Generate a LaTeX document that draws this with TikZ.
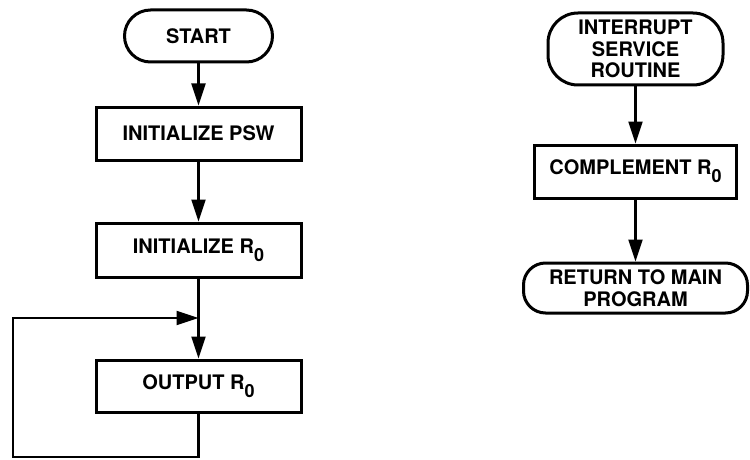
\documentclass[tikz,border=0pt]{standalone}
\usepackage{fontspec}
\setmainfont{TeX Gyre Heros}
\usetikzlibrary{arrows.meta}

\newcommand{\subzero}{\raisebox{-8pt}{\fontsize{18}{18}\selectfont 0}}

\tikzset{
  box/.style={draw, line width=3pt, rectangle, inner sep=0pt,
    font=\fontsize{20}{21.5}\selectfont\bfseries, align=center},
  term/.style={box, rounded corners=#1},
  flow/.style={line width=2.2pt, -{Triangle[length=22pt,width=14pt]}},
}

\begin{document}
\begin{tikzpicture}[x=1pt,y=-1pt]
  \useasboundingbox (0,0) rectangle (750,460);

  % main program
  \node[term=26pt, minimum width=148pt, minimum height=52pt] (start) at (198.5,36) {START};
  \node[box, minimum width=205pt, minimum height=53pt] (psw) at (198.5,133.5) {INITIALIZE PSW};
  \node[box, minimum width=205pt, minimum height=54pt] (init) at (198.5,250) {INITIALIZE R\subzero};
  \node[box, minimum width=205pt, minimum height=52pt] (out) at (198.5,386) {OUTPUT R\subzero};

  \coordinate (join) at (198.5,318);
  \coordinate (lowleft) at (13,457);
  \coordinate (upleft) at (13,318);

  \draw[flow] (start) -- (psw);
  \draw[flow] (psw) -- (init);
  \draw[flow] (init) -- (out);
  \draw[flow] (out.south) |- (lowleft) -- (upleft) -- (join);

  % interrupt service routine
  \node[term=30pt, minimum width=175pt, minimum height=72pt] (isr) at (635.5,49)
    {INTERRUPT\\SERVICE\\ROUTINE};
  \node[box, minimum width=202pt, minimum height=53pt] (comp) at (635.5,171.5) {COMPLEMENT R\subzero};
  \node[term=22pt, minimum width=224pt, minimum height=50pt] (ret) at (635.5,288)
    {RETURN TO MAIN\\PROGRAM};

  \draw[flow] (isr) -- (comp);
  \draw[flow] (comp) -- (ret);
\end{tikzpicture}
\end{document}
